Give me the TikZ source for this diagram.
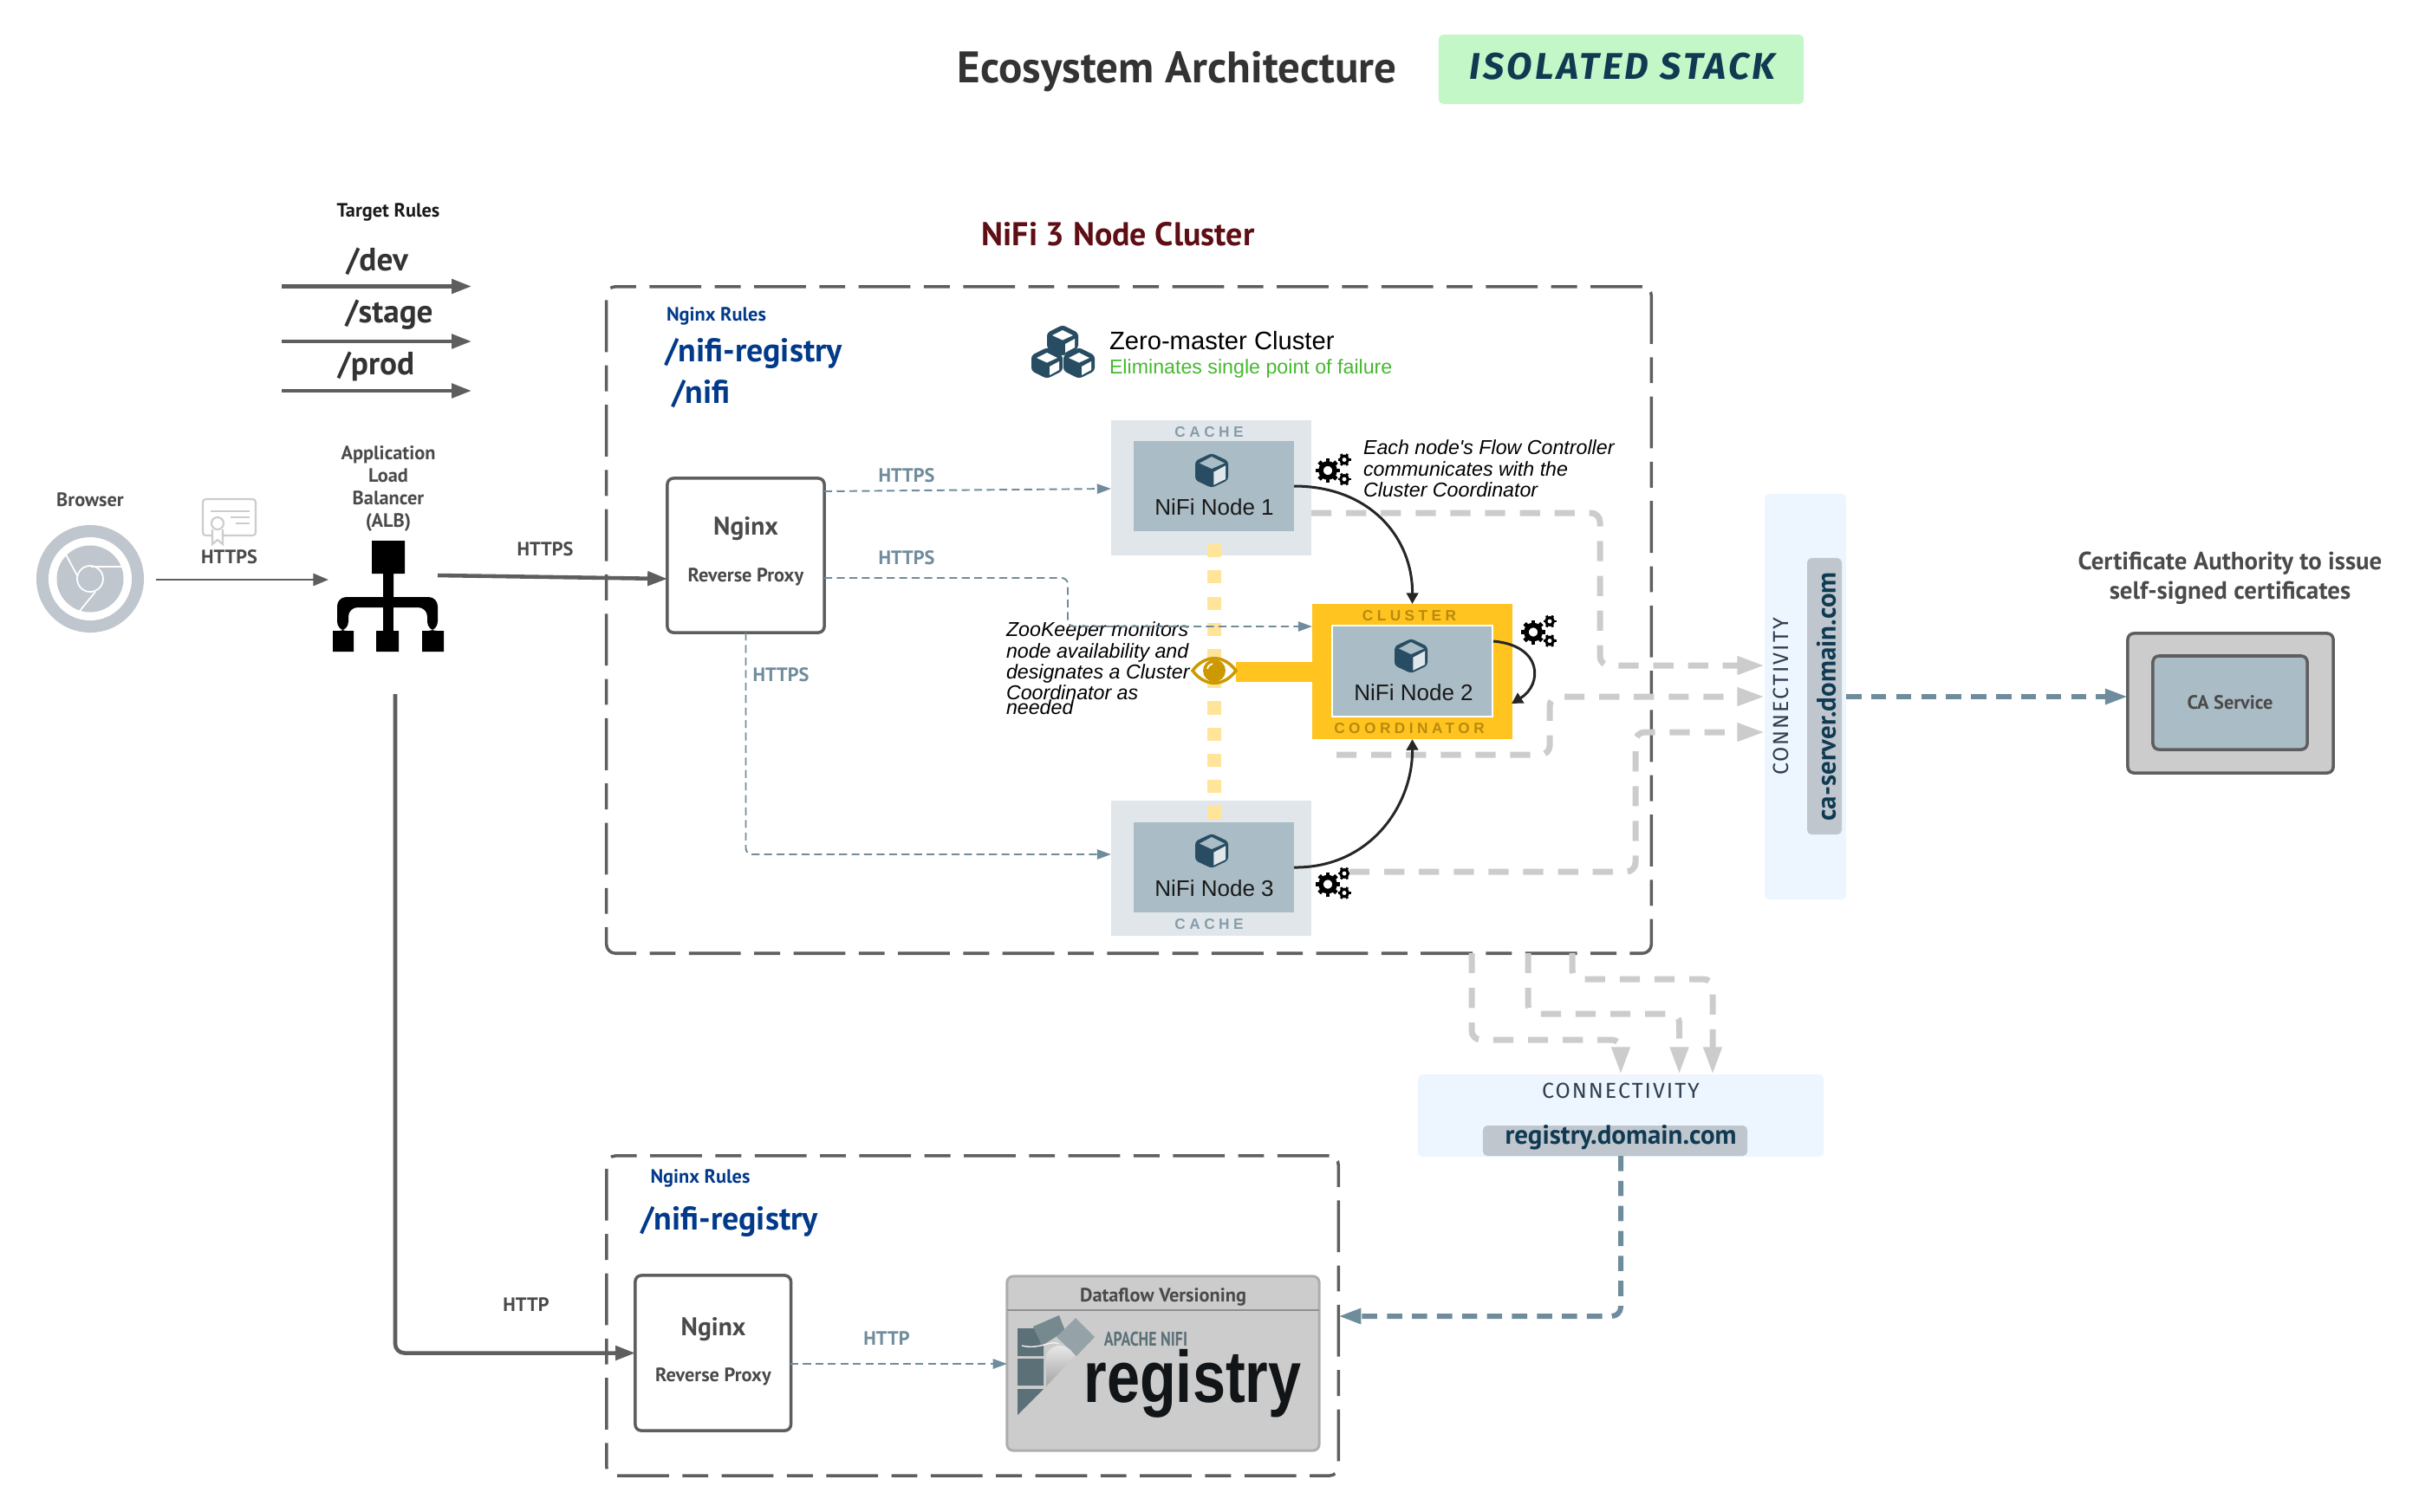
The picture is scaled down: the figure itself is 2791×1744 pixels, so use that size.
\documentclass[tikz,border=0pt]{standalone}
\usepackage{fontspec}
\setmainfont{PT Sans}
\newfontfamily\arialfont{Liberation Sans}
\newfontfamily\handfont{Fira Sans}
\usepackage{tikz}
\usetikzlibrary{arrows.meta}
\definecolor{linegray}{HTML}{5E5E5E}
\definecolor{textgray}{HTML}{4A4A4A}
\definecolor{ruleblue}{HTML}{023A8A}
\definecolor{slate}{HTML}{6F8C9C}
\definecolor{paleslate}{HTML}{E1E6EA}
\definecolor{nodeslate}{HTML}{AABCC5}
\definecolor{darkcube}{HTML}{284D63}
\definecolor{coordyellow}{HTML}{FFC41F}
\definecolor{softyellow}{HTML}{FFE49A}
\definecolor{coordtext}{HTML}{B88A10}
\definecolor{paleblue}{HTML}{EDF5FF}
\definecolor{chipgray}{HTML}{C0C6CE}
\definecolor{navytext}{HTML}{0F3A52}
\definecolor{handtext}{HTML}{2F3E4E}
\definecolor{connect}{HTML}{CCCCCC}
\definecolor{badgegreen}{HTML}{C3F7C8}
\definecolor{clusterred}{HTML}{5E0E14}
\definecolor{okgreen}{HTML}{46B82F}
\definecolor{eyegold}{HTML}{CC9900}
\definecolor{logodark}{HTML}{5C7078}
\definecolor{logomid}{HTML}{76898F}
\definecolor{logolight}{HTML}{95A2A8}
\newcommand{\pxfont}[1]{\fontsize{#1}{#1}\selectfont}
\tikzset{
  x=0.01cm,y=-0.01cm,
  every node/.style={inner sep=0pt,outer sep=0pt},
  plainlabel/.style={font=\bfseries\pxfont{6.35pt},text=textgray,align=center,yshift=-.02cm},
  slatelabel/.style={font=\bfseries\pxfont{6.35pt},text=slate,yshift=-.02cm},
  rulepath/.style={font=\bfseries\pxfont{10.8pt},text=ruleblue,yshift=-.03cm},
  rulehead/.style={font=\bfseries\pxfont{6.35pt},text=ruleblue,yshift=-.02cm},
  targetpath/.style={font=\bfseries\pxfont{10.6pt},text=black!80,yshift=-.02cm},
  nginxtitle/.style={font=\bfseries\pxfont{8.4pt},text=textgray,yshift=-.03cm},
  domaintext/.style={font=\bfseries\pxfont{8.8pt},text=navytext},
  strip/.style={font=\arialfont\bfseries\pxfont{4.9pt}\addfontfeature{LetterSpace=26},yshift=-.01cm},
  noderef/.style={font=\arialfont\pxfont{7.4pt},text=black!90},
  notetext/.style={font=\arialfont\itshape\pxfont{6.6pt},align=left,text=black},
  hand/.style={font=\handfont\pxfont{7.1pt}\addfontfeature{LetterSpace=8},text=handtext},
  proxy/.style={draw=linegray,line width=1pt,rounded corners=2pt,fill=white},
  scopebox/.style={draw=linegray,line width=1pt,rounded corners=3pt,dash pattern=on 17pt off 4.4pt on 8.5pt off 4.4pt},
  wire/.style={-{Triangle[length=4.6pt,width=3.2pt]},draw=slate,line width=.55pt,dash pattern=on 2.6pt off 1.5pt,rounded corners=2pt},
  route/.style={-{Triangle[length=9pt,width=5.7pt]},draw=connect,line width=2pt,dash pattern=on 6.6pt off 4.8pt,rounded corners=3pt},
  trunk/.style={-{Triangle[length=7.4pt,width=4.8pt]},draw=slate,line width=1.7pt,dash pattern=on 5pt off 3.2pt,rounded corners=3pt},
  solidarrow/.style={-{Triangle[length=6.5pt,width=4.6pt]},draw=linegray,line width=1.3pt,rounded corners=3pt},
  flow/.style={-{Triangle[length=3.6pt,width=3.8pt]},draw=black!85,line width=.85pt},
  gearsicon/.pic={
    \draw[black,line width=1.6pt] (0,0) circle (8);
    \foreach \a in {0,45,...,315} \draw[black,line width=1.4pt] (\a:8) -- (\a:14);
    \foreach \p in {(19,-12.5),(19,10)} {
      \begin{scope}[shift={\p}]
        \draw[black,line width=.9pt] (0,0) circle (4.3);
        \foreach \a in {0,60,...,300} \draw[black,line width=.8pt] (\a:4) -- (\a:7.5);
      \end{scope}
    }
  },
  cubeicon/.pic={
    \fill[darkcube,rounded corners=1pt] (0,-20) -- (19,-11) -- (19,11) -- (0,20) -- (-19,11) -- (-19,-11) -- cycle;
    \fill[nodeslate] (0,-16) -- (15,-8.5) -- (0,-2) -- (-14,-8.5) -- cycle;
    \fill[paleslate] (2.3,1.7) -- (16,-5.7) -- (16,10) -- (2.3,16.7) -- cycle;
  },
  blockicon/.pic={
    \fill[darkcube,rounded corners=1pt] (0,-18) -- (18,-9) -- (18,9) -- (0,18) -- (-18,9) -- (-18,-9) -- cycle;
    \fill[white] (-12,-6) -- (0,-12) -- (12,-6) -- (0,-.5) -- cycle;
    \fill[white] (3,4) -- (14,-2) -- (14,8) -- (3,14) -- cycle;
  }
}
\begin{document}
\begin{tikzpicture}
\useasboundingbox (0,0) rectangle (2791,1744);
% header
\node[font=\bfseries\pxfont{14.5pt},text=black!80] (title) at (1358,83) {Ecosystem Architecture};
\node[fill=badgegreen,minimum width=4.21cm,minimum height=.8cm,rounded corners=1.5pt] (badge) at (1870.5,80) {};
\node[font=\handfont\bfseries\itshape\pxfont{12.2pt}\addfontfeature{LetterSpace=8},text=navytext] (badgetext) at (1872,77) {ISOLATED STACK};
\node[font=\bfseries\pxfont{10.8pt},text=clusterred] (clustertitle) at (1290,270) {NiFi 3 Node Cluster};
% target rules
\node[font=\bfseries\pxfont{6.35pt},text=black!90,yshift=-.02cm] (targetrules) at (448,243) {Target Rules};
\node[targetpath] (dev) at (435,300) {/dev};
\node[targetpath] (stage) at (449,361) {/stage};
\node[targetpath] (prod) at (434,421) {/prod};
\coordinate (a1) at (325,330.5); \coordinate (a2) at (544,330.5);
\coordinate (b1) at (325,394); \coordinate (b2) at (544,394);
\coordinate (c1) at (325,451); \coordinate (c2) at (544,451);
\draw[solidarrow] (a1) -- (a2);
\draw[solidarrow] (b1) -- (b2);
\draw[solidarrow] (c1) -- (c2);
% browser
\node[plainlabel] (browser) at (104,575) {Browser};
\node[circle,fill=chipgray,minimum size=1.24cm] (chrome) at (104,668) {};
\fill[white] (chrome.center) circle (48);
\fill[chipgray] (chrome.center) circle (38.5);
\draw[white,line width=.5pt] (chrome.center) circle (15);
\draw[white,line width=.5pt] (105,654) -- (141,654) (76,640) -- (89.5,665) (110,683) -- (92,705);
\draw[connect,line width=.6pt,fill=white,rounded corners=1pt] (234,576) rectangle (295,618);
\draw[connect,line width=.6pt] (243,590) -- (288,590) (266,597) -- (288,597) (272,604) -- (288,604);
\draw[connect,line width=.6pt,fill=white] (245,611) -- (245,628) -- (251,623) -- (257,628) -- (257,611);
\draw[connect,line width=.6pt,fill=white] (251,604) circle (7);
\node[plainlabel] (certhttps) at (264.5,641) {HTTPS};
% load balancer
\node[plainlabel] (alblabel) at (448,562) {Application\\[1pt]Load\\[1pt]Balancer\\[1pt](ALB)};
\fill[black] (429,624) rectangle (467,662) (442,662) rectangle (454,690);
\fill[black,rounded corners=3pt] (389,728) -- (389,689) -- (505,689) -- (505,728) -- (493,728) -- (493,701) -- (402,701) -- (402,728) -- cycle;
\fill[black] (442,689) rectangle (454,728);
\fill[black] (384,728) rectangle (408,752) (434,728) rectangle (460,752) (487,728) rectangle (512,752);
\coordinate (albtop) at (379,669); \coordinate (browserout) at (180,669);
\coordinate (albout) at (505,664); \coordinate (albin) at (770,668); \coordinate (albdown) at (456,801);
\draw[solidarrow,line width=.75pt,-{Triangle[length=5pt,width=4pt]}] (browserout) -- (albtop);
% main cluster frame
\node[scopebox,minimum width=12.05cm,minimum height=7.69cm] (mainframe) at (1302.5,715.5) {};
\node[rulehead] (rulesa) at (826.5,363) {Nginx Rules};
\node[rulepath] (registrya) at (869.5,405) {/nifi-registry};
\node[rulepath] (nifia) at (809,452) {/nifi};
\node[proxy,minimum width=1.81cm,minimum height=1.78cm] (proxya) at (860.5,641) {};
\node[nginxtitle] (nginxa) at (860.5,607) {Nginx};
\node[plainlabel] (reversea) at (860.5,664) {Reverse Proxy};
\draw[solidarrow] (albout) -- (albin);
\node[plainlabel] (albhttps) at (629,632) {HTTPS};
\node[slatelabel] (httpsa) at (1046,547) {HTTPS};
\node[slatelabel] (httpsb) at (1046,642) {HTTPS};
\node[slatelabel] (httpsc) at (901,777) {HTTPS};
% cluster heading
\path (1226,393) pic {blockicon} (1208,419) pic {blockicon} (1245,419) pic {blockicon};
\node[font=\arialfont\pxfont{8.3pt},anchor=west,text=black] (zeromaster) at (1280,393) {Zero-master Cluster};
\node[font=\arialfont\pxfont{6.6pt},anchor=west,text=okgreen] (eliminates) at (1280,425) {Eliminates single point of failure};
% nodes, outer parts first
\node[fill=paleslate,minimum width=2.31cm,minimum height=1.56cm] (outera) at (1397.5,563) {};
\node[fill=paleslate,minimum width=2.31cm,minimum height=1.56cm] (outerc) at (1397.5,1002) {};
\node[fill=coordyellow,minimum width=2.31cm,minimum height=1.56cm] (outerb) at (1629.5,775) {};
\coordinate (dotstop) at (1401,628); \coordinate (dotsbot) at (1401,948);
\draw[softyellow,line width=4.3pt,dash pattern=on 4.3pt off 4.3pt] (dotstop) -- (dotsbot);
\node[fill=nodeslate,minimum width=1.85cm,minimum height=1.04cm] (boxa) at (1400.5,561) {};
\node[fill=nodeslate,minimum width=1.85cm,minimum height=1.04cm] (boxc) at (1400.5,1001) {};
\node[fill=nodeslate,draw=white,line width=.4pt,minimum width=1.85cm,minimum height=1.05cm] (boxb) at (1629.5,774.5) {};
\path (1398,543) pic {cubeicon} (1398,982) pic {cubeicon} (1628,757) pic {cubeicon};
\node[noderef] (labela) at (1401,585) {NiFi Node 1};
\node[noderef] (labelb) at (1631,799) {NiFi Node 2};
\node[noderef] (labelc) at (1401,1025) {NiFi Node 3};
\node[strip,text=slate!85] (cachea) at (1395,498) {CACHE};
\node[strip,text=slate!85] (cachec) at (1395,1066) {CACHE};
\node[strip,text=coordtext] (clusterstrip) at (1626,710) {CLUSTER};
\node[strip,text=coordtext] (coordstrip) at (1626,840) {COORDINATOR};
\node[fill=coordyellow,minimum width=.88cm,minimum height=.23cm] (eyebar) at (1470,775.5) {};
\fill[white,draw=eyegold,line width=1pt] (1376,774) .. controls (1390,755) and (1412,755) .. (1426,774) .. controls (1412,793) and (1390,793) .. (1376,774) -- cycle;
\node[circle,fill=eyegold,minimum size=.26cm] (eye) at (1401,774) {};
\draw[white,line width=.5pt] (1393,772) .. controls (1394,768) and (1396,767) .. (1399,766);
\path (1532,543) pic {gearsicon} (1769,729.5) pic {gearsicon} (1532,1020.5) pic {gearsicon};
\node[notetext,anchor=north west] (flownote) at (1573,508) {Each node's Flow Controller\\[.3pt]communicates with the\\[.3pt]Cluster Coordinator};
\node[notetext,anchor=north west] (zknote) at (1161,718) {ZooKeeper monitors\\[.3pt]node availability and\\[.3pt]designates a Cluster\\[.3pt]Coordinator as\\[-1.9pt]needed};
% proxy wires
\coordinate (wirea) at (951,567); \coordinate (wireb) at (951,564);
\draw[wire] (wirea) -- (outera.west |- wireb);
\coordinate (bendb) at (1232,667); \coordinate (bendc) at (1232,723);
\draw[wire] (proxya.east |- bendb) -- (bendb) -- (bendc) -- (outerb.west |- bendc);
\coordinate (bendd) at (860.5,986);
\draw[wire] (proxya.south) -- (bendd) -- (outerc.west |- bendd);
% links to connectivity panels
\node[fill=paleblue,rounded corners=1.5pt,minimum width=.94cm,minimum height=4.68cm] (capanel) at (2083,804) {};
\node[fill=chipgray,rounded corners=1.5pt,minimum width=.4cm,minimum height=3.19cm] (cachip) at (2105,803.5) {};
\node[domaintext,rotate=90] (caserver) at (2107,804) {ca-server.domain.com};
\node[hand,rotate=90] (caconnect) at (2055,804) {CONNECTIVITY};
\coordinate (ra) at (1513,592); \coordinate (rb) at (1846,592); \coordinate (rc) at (1846,768);
\coordinate (sa) at (1542,871); \coordinate (sb) at (1788,871); \coordinate (sc) at (1788,804);
\coordinate (ta) at (1557,1006); \coordinate (tb) at (1887,1006); \coordinate (tc) at (1887,845);
\draw[route] (ra) -- (rb) -- (rc) -- (capanel.west |- rc);
\draw[route] (sa) -- (sb) -- (sc) -- (capanel.west |- sc);
\draw[route] (ta) -- (tb) -- (tc) -- (capanel.west |- tc);
% flows to the coordinator
\draw[flow] (boxa.east) .. controls (1580,561) and (1630,620) .. (outerb.north);
\draw[flow] (boxc.east) .. controls (1580,1002) and (1630,930) .. (outerb.south);
\coordinate (selfout) at (1723,740); \coordinate (selfin) at (1744,812);
\draw[flow] (selfout) .. controls (1780,745) and (1780,790) .. (selfin);
% certificate authority
\node[font=\bfseries\pxfont{8.2pt},text=textgray,align=center,yshift=-.02cm] (calabel) at (2573,665) {Certificate Authority to issue\\[1.5pt]self-signed certificates};
\node[draw=linegray,line width=1pt,fill=connect,rounded corners=2pt,minimum width=2.37cm,minimum height=1.61cm] (caouter) at (2573.5,811.5) {};
\node[draw=linegray,line width=1pt,fill=nodeslate,rounded corners=2pt,minimum width=1.78cm,minimum height=1.08cm,font=\bfseries\pxfont{6.35pt},text=textgray] (caservice) at (2573,811) {CA Service};
\coordinate (trunkout) at (2130,804);
\draw[trunk] (trunkout) -- (caouter.west |- trunkout);
% registry side
\node[fill=paleblue,rounded corners=1.5pt,minimum width=4.68cm,minimum height=.95cm] (regpanel) at (1870,1287.5) {};
\node[fill=chipgray,rounded corners=1.5pt,minimum width=3.05cm,minimum height=.35cm] (regchip) at (1863.5,1316.5) {};
\node[hand] (regconnect) at (1870,1259) {CONNECTIVITY};
\node[domaintext] (regdomain) at (1870,1313) {registry.domain.com};
\coordinate (ua) at (1698,1100); \coordinate (ub) at (1698,1200); \coordinate (uc) at (1870,1200);
\coordinate (va) at (1763,1100); \coordinate (vb) at (1763,1170); \coordinate (vc) at (1937.5,1170);
\coordinate (wa) at (1814,1100); \coordinate (wb) at (1814,1130); \coordinate (wc) at (1976,1130);
\draw[route] (ua) -- (ub) -- (uc) -- (uc |- regpanel.north);
\draw[route] (va) -- (vb) -- (vc) -- (vc |- regpanel.north);
\draw[route] (wa) -- (wb) -- (wc) -- (wc |- regpanel.north);
% lower frame
\node[scopebox,minimum width=8.44cm,minimum height=3.69cm] (lowerframe) at (1122,1518.5) {};
\node[rulehead] (rulesb) at (808,1358) {Nginx Rules};
\node[rulepath] (registryb) at (841.5,1407) {/nifi-registry};
\node[proxy,minimum width=1.795cm,minimum height=1.79cm] (proxyb) at (822.7,1561.5) {};
\node[nginxtitle] (nginxb) at (823,1531) {Nginx};
\node[plainlabel] (reverseb) at (823,1587) {Reverse Proxy};
\node[draw=connect!85!black,line width=.85pt,fill=connect,rounded corners=2pt,minimum width=3.6cm,minimum height=2.01cm] (regbox) at (1342,1573.5) {};
\coordinate (divider) at (1342,1512);
\draw[connect!70!black,line width=.8pt] (regbox.west |- divider) -- (regbox.east |- divider);
\node[plainlabel] (versioning) at (1342,1495) {Dataflow Versioning};
% registry logo
\fill[logodark] (1174,1533) rectangle (1204,1565) (1174,1568) rectangle (1204,1599);
\fill[logodark] (1174,1603) -- (1204,1603) -- (1174,1633) -- cycle;
\fill[logomid] (1192,1531) -- (1222,1518) -- (1229,1536) -- (1202,1553) -- cycle;
\fill[logolight] (1241,1521) -- (1263,1543) -- (1242,1565) -- (1219,1543) -- cycle;
\shade[top color=white!75!connect,bottom color=black!20!connect] (1207,1600) -- (1207,1565) .. controls (1209,1553) and (1230,1545) .. (1240,1565) -- cycle;
\draw[white!70!connect,line width=.4pt] (1179,1553) .. controls (1200,1558) and (1212,1546) .. (1222,1551);
\node[font=\bfseries\pxfont{6.5pt},text=logodark,xscale=.78,transform shape] (apache) at (1322,1545) {APACHE NIFI};
\node[font=\arialfont\bfseries\pxfont{24pt},text=black!85!slate,xscale=.81,anchor=base,transform shape] (registrylogo) at (1376,1618) {registry};
\node[slatelabel] (httpd) at (1023,1543) {HTTP};
\coordinate (wireout) at (912,1574);
\draw[wire] (wireout) -- (regbox.west |- wireout);
\coordinate (trunkbend) at (1870,1519);
\draw[trunk] (regchip.south -| regconnect) -- (trunkbend) -- (lowerframe.east |- trunkbend);
\node[plainlabel] (albhttp) at (607,1504) {HTTP};
\coordinate (albbend) at (456,1561.5);
\draw[solidarrow] (albdown) -- (albbend) -- (proxyb.west);
\end{tikzpicture}
\end{document}
